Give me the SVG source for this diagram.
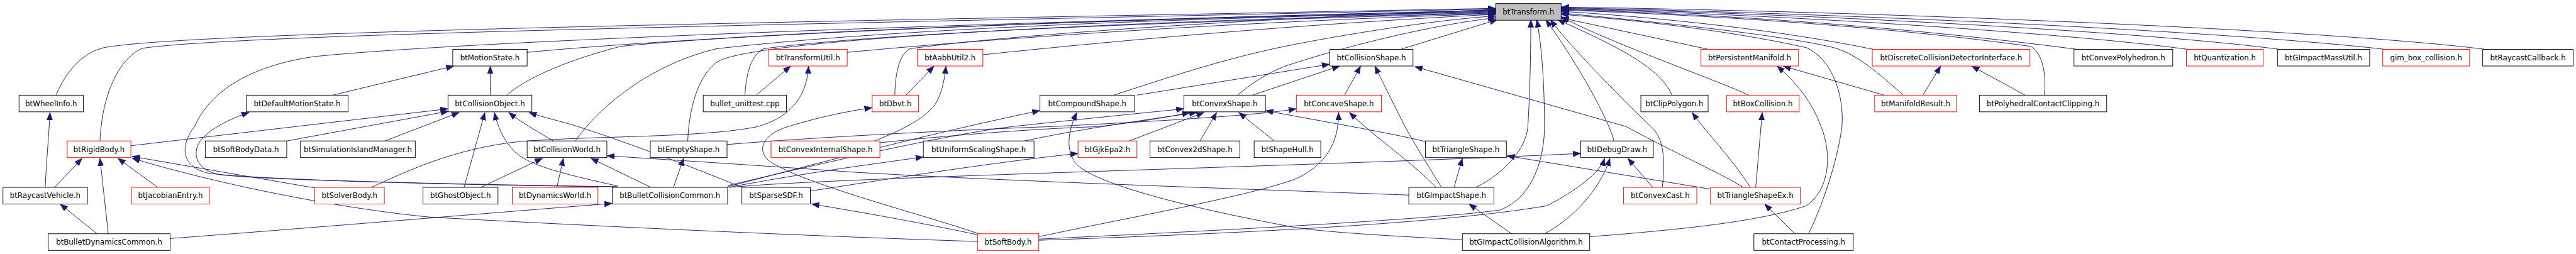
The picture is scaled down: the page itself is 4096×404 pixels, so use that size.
<svg xmlns="http://www.w3.org/2000/svg" width="4096" height="404" viewBox="0 0 4096 404">
<style>
.n rect{fill:#fff;stroke:#000;stroke-width:1}
.n.r rect{stroke:#ff0000}
.n.g rect{fill:#bfbfbf}
.n text{font-family:"DejaVu Sans","Liberation Sans",sans-serif;font-size:12.5px;fill:#000;text-anchor:middle}
.e path{fill:none;stroke:#191970;stroke-width:1;marker-end:url(#a)}
</style>
<defs>
<marker id="a" markerUnits="userSpaceOnUse" markerWidth="14" markerHeight="11" refX="13" refY="5" orient="auto"><path d="M0,0 L13,5 L0,10 Z" fill="#191970" stroke="#191970" stroke-width="0.5"/></marker>
</defs>
<rect x="0" y="0" width="4096" height="404" fill="#fff"/>
<g transform="scale(0.946)">
<g id="edges" class="e">
<path d="M94,160 C112,118 140,88 175,80 C330,52 1400,36 2514,14"/>
<path d="M168,237 C172,150 205,95 240,81 C420,56 1400,40 2514,15"/>
<path d="M1039,314 C800,312 420,302 350,291 C300,280 305,240 327,213 C350,160 410,112 529,95 C800,68 1600,40 2514,17"/>
<path d="M1036,314 C800,310 460,304 372,294 C330,288 322,258 336,238 C350,218 385,200 419,189"/>
<path d="M559,160 L763,111"/>
<path d="M886,88 C1200,58 1900,30 2514,18"/>
<path d="M824,160 L824,111"/>
<path d="M852,160 C880,135 940,105 1043,78 C1300,52 1900,32 2514,19"/>
<path d="M220,245 L753,183"/>
<path d="M482,237 L754,187"/>
<path d="M647,237 L772,189"/>
<path d="M780,315 L815,189"/>
<path d="M1039,313 C960,295 890,280 865,255 C847,237 836,212 831,189"/>
<path d="M930,237 C905,222 875,205 855,189"/>
<path d="M1247,315 C1150,275 1040,235 972,213 C940,203 912,197 889,189"/>
<path d="M967,237 C1000,190 1080,112 1204,82 C1500,48 2000,30 2514,20"/>
<path d="M1156,237 C1158,180 1175,122 1209,102 C1300,60 2000,33 2514,21"/>
<path d="M1252,160 C1255,120 1262,95 1283,82 C1500,52 2100,33 2514,22"/>
<path d="M1271,160 L1329,111"/>
<path d="M624,315 C680,290 760,250 873,238 C1000,228 1180,232 1273,213 C1320,200 1356,170 1359,111"/>
<path d="M1424,88 C1700,62 2100,36 2514,23"/>
<path d="M1504,160 C1505,120 1512,92 1529,82 C1700,58 2100,32 2514,16"/>
<path d="M1523,160 L1570,111"/>
<path d="M1470,237 C1500,225 1560,200 1575,170 C1585,150 1588,130 1590,111"/>
<path d="M1652,92 C1900,66 2200,40 2514,24"/>
<path d="M1872,160 C1950,135 2050,100 2164,77 C2300,50 2450,30 2514,27"/>
<path d="M1911,160 L2235,108"/>
<path d="M2105,160 L2252,111"/>
<path d="M2080,160 C2110,135 2140,118 2164,110 C2300,65 2450,36 2514,30"/>
<path d="M2354,83 L2517,33"/>
<path d="M2260,160 L2287,111"/>
<path d="M2423,315 C2395,270 2370,230 2355,200 C2340,170 2320,130 2311,111"/>
<path d="M2414,315 C2370,270 2310,230 2268,189"/>
<path d="M1746,398 C1900,365 2100,330 2180,300 C2230,275 2250,240 2250,189"/>
<path d="M2930,315 C2900,295 2800,250 2734,213 L2378,112"/>
<path d="M2942,315 C2910,265 2870,225 2844,189"/>
<path d="M2875,318 L2533,262"/>
<path d="M2951,315 L2962,189"/>
<path d="M2939,160 C2900,140 2700,70 2624,28"/>
<path d="M2872,83 L2624,30"/>
<path d="M3149,83 C3000,52 2800,30 2624,19"/>
<path d="M3199,160 C3160,125 3120,90 3082,80 C3000,60 2800,38 2624,22"/>
<path d="M3436,160 C3441,120 3430,86 3413,78 C3200,48 2900,26 2624,17"/>
<path d="M3492,83 C3200,45 2900,24 2624,16"/>
<path d="M3677,83 C3500,58 3000,24 2624,15"/>
<path d="M3832,83 C3600,52 3000,22 2624,14"/>
<path d="M4010,83 C3700,48 3000,20 2624,13"/>
<path d="M4178,83 C3900,48 3100,18 2624,12"/>
<path d="M3040,393 C3070,330 3090,260 3096,213 C3100,160 3080,100 3036,80 C2900,50 2750,34 2624,24"/>
<path d="M3017,393 L2966,343"/>
<path d="M2672,398 C2800,388 2950,375 3036,346 C3075,320 3080,260 3061,213 C3045,170 3020,140 2987,111"/>
<path d="M3167,160 L2997,111"/>
<path d="M3232,160 L3262,111"/>
<path d="M3404,160 L3314,111"/>
<path d="M2794,315 C2800,265 2795,230 2775,213 C2740,180 2640,80 2606,33"/>
<path d="M2778,315 L2736,266"/>
<path d="M2713,237 C2700,190 2640,90 2598,33"/>
<path d="M2810,160 C2790,110 2700,70 2618,33"/>
<path d="M2481,315 C2530,290 2565,250 2568,213 C2572,150 2573,80 2573,33"/>
<path d="M1746,402 C2000,390 2400,370 2522,353 C2580,330 2596,260 2596,213 C2596,130 2590,70 2583,33"/>
<path d="M1746,404 C2000,395 2400,380 2600,346 C2650,320 2690,290 2697,266"/>
<path d="M2596,393 C2640,370 2690,320 2706,266"/>
<path d="M2541,393 L2469,343"/>
<path d="M2458,403 C2300,395 2200,388 2164,380 C1950,340 1820,300 1805,270 C1790,245 1798,215 1810,189"/>
<path d="M2444,315 L2458,266"/>
<path d="M2368,328 C2100,318 1700,305 1443,290 C1300,280 1150,270 1020,262"/>
<path d="M2396,238 C2330,222 2200,200 2127,186"/>
<path d="M1222,243 C1400,228 1700,215 1764,213 C1900,206 2100,196 2179,183"/>
<path d="M1223,312 C1400,270 1600,225 1700,213 C1800,202 1900,192 1990,183"/>
<path d="M1223,314 C1400,268 1560,225 1748,186"/>
<path d="M1225,315 C1330,295 1420,282 1552,264"/>
<path d="M1227,315 C1400,298 2200,280 2657,258"/>
<path d="M1479,240 C1650,222 1780,215 1843,213 C1900,207 1960,198 2000,189"/>
<path d="M1722,237 C1800,220 1900,205 2012,189"/>
<path d="M1898,237 L2024,189"/>
<path d="M2017,237 L2045,189"/>
<path d="M2142,237 L2082,189"/>
<path d="M1363,321 C1450,308 1650,275 1812,258"/>
<path d="M1645,395 C1550,375 1450,357 1364,343"/>
<path d="M1645,393 C1550,360 1350,310 1292,270 C1270,250 1285,225 1324,213 C1380,196 1420,188 1466,181"/>
<path d="M1643,406 C1300,395 900,375 722,365 C550,348 350,305 222,266"/>
<path d="M529,316 L222,263"/>
<path d="M265,315 L198,266"/>
<path d="M92,315 L138,266"/>
<path d="M76,315 C78,270 82,230 84,189"/>
<path d="M163,393 L101,343"/>
<path d="M182,393 L168,266"/>
<path d="M286,401 C500,385 800,360 1029,342"/>
<path d="M808,315 L912,266"/>
<path d="M936,315 L947,266"/>
<path d="M1094,315 L993,266"/>
<path d="M1132,315 L1149,266"/>
</g>
<g id="n_T" class="n g"><rect x="2514" y="6" width="110" height="28"/><text x="2569" y="24.5">btTransform.h</text></g>
<g id="n_motion" class="n"><rect x="761" y="83" width="125" height="28"/><text x="823.5" y="101.5">btMotionState.h</text></g>
<g id="n_tutil" class="n r"><rect x="1292" y="83" width="132" height="28"/><text x="1358" y="101.5">btTransformUtil.h</text></g>
<g id="n_aabb" class="n r"><rect x="1542" y="83" width="110" height="28"/><text x="1597" y="101.5">btAabbUtil2.h</text></g>
<g id="n_cshape" class="n"><rect x="2235" y="83" width="140" height="28"/><text x="2305" y="101.5">btCollisionShape.h</text></g>
<g id="n_pm" class="n r"><rect x="2859" y="83" width="164" height="28"/><text x="2941" y="101.5">btPersistentManifold.h</text></g>
<g id="n_dcdi" class="n r"><rect x="3147" y="83" width="265" height="28"/><text x="3279.5" y="101.5">btDiscreteCollisionDetectorInterface.h</text></g>
<g id="n_cpoly" class="n"><rect x="3486" y="83" width="166" height="28"/><text x="3569" y="101.5">btConvexPolyhedron.h</text></g>
<g id="n_quant" class="n r"><rect x="3675" y="83" width="129" height="28"/><text x="3739.5" y="101.5">btQuantization.h</text></g>
<g id="n_gmass" class="n"><rect x="3828" y="83" width="155" height="28"/><text x="3905.5" y="101.5">btGImpactMassUtil.h</text></g>
<g id="n_gimbox" class="n r"><rect x="4005" y="83" width="146" height="28"/><text x="4078" y="101.5">gim_box_collision.h</text></g>
<g id="n_rcb" class="n"><rect x="4173" y="83" width="152" height="28"/><text x="4249" y="101.5">btRaycastCallback.h</text></g>
<g id="n_wheel" class="n"><rect x="32" y="160" width="108" height="28"/><text x="86" y="178.5">btWheelInfo.h</text></g>
<g id="n_dms" class="n"><rect x="414" y="160" width="171" height="28"/><text x="499.5" y="178.5">btDefaultMotionState.h</text></g>
<g id="n_cobj" class="n"><rect x="753" y="160" width="141" height="28"/><text x="823.5" y="178.5">btCollisionObject.h</text></g>
<g id="n_unit" class="n"><rect x="1182" y="160" width="140" height="28"/><text x="1252" y="178.5">bullet_unittest.cpp</text></g>
<g id="n_dbvt" class="n r"><rect x="1466" y="160" width="78" height="28"/><text x="1505" y="178.5">btDbvt.h</text></g>
<g id="n_compound" class="n"><rect x="1748" y="160" width="159" height="28"/><text x="1827.5" y="178.5">btCompoundShape.h</text></g>
<g id="n_convex" class="n"><rect x="1990" y="160" width="137" height="28"/><text x="2058.5" y="178.5">btConvexShape.h</text></g>
<g id="n_concave" class="n r"><rect x="2179" y="160" width="143" height="28"/><text x="2250.5" y="178.5">btConcaveShape.h</text></g>
<g id="n_clip" class="n"><rect x="2758" y="160" width="113" height="28"/><text x="2814.5" y="178.5">btClipPolygon.h</text></g>
<g id="n_boxcol" class="n r"><rect x="2902" y="160" width="122" height="28"/><text x="2963" y="178.5">btBoxCollision.h</text></g>
<g id="n_mres" class="n r"><rect x="3151" y="160" width="138" height="28"/><text x="3220" y="178.5">btManifoldResult.h</text></g>
<g id="n_pcc" class="n"><rect x="3327" y="160" width="214" height="28"/><text x="3434" y="178.5">btPolyhedralContactClipping.h</text></g>
<g id="n_rigid" class="n r"><rect x="113" y="237" width="107" height="28"/><text x="166.5" y="255.5">btRigidBody.h</text></g>
<g id="n_sbdata" class="n"><rect x="345" y="237" width="137" height="28"/><text x="413.5" y="255.5">btSoftBodyData.h</text></g>
<g id="n_sim" class="n"><rect x="505" y="237" width="193" height="28"/><text x="601.5" y="255.5">btSimulationIslandManager.h</text></g>
<g id="n_cworld" class="n"><rect x="886" y="237" width="134" height="28"/><text x="953" y="255.5">btCollisionWorld.h</text></g>
<g id="n_empty" class="n"><rect x="1093" y="237" width="129" height="28"/><text x="1157.5" y="255.5">btEmptyShape.h</text></g>
<g id="n_cis" class="n r"><rect x="1296" y="237" width="183" height="28"/><text x="1387.5" y="255.5">btConvexInternalShape.h</text></g>
<g id="n_uss" class="n"><rect x="1552" y="237" width="186" height="28"/><text x="1645" y="255.5">btUniformScalingShape.h</text></g>
<g id="n_gjk" class="n r"><rect x="1812" y="237" width="99" height="28"/><text x="1861.5" y="255.5">btGjkEpa2.h</text></g>
<g id="n_c2d" class="n"><rect x="1933" y="237" width="151" height="28"/><text x="2008.5" y="255.5">btConvex2dShape.h</text></g>
<g id="n_hull" class="n"><rect x="2108" y="237" width="112" height="28"/><text x="2164" y="255.5">btShapeHull.h</text></g>
<g id="n_tri" class="n"><rect x="2396" y="237" width="136" height="28"/><text x="2464" y="255.5">btTriangleShape.h</text></g>
<g id="n_idd" class="n"><rect x="2657" y="237" width="122" height="28"/><text x="2718" y="255.5">btIDebugDraw.h</text></g>
<g id="n_rv" class="n"><rect x="5" y="315" width="142" height="28"/><text x="76" y="333.5">btRaycastVehicle.h</text></g>
<g id="n_jac" class="n r"><rect x="221" y="315" width="131" height="28"/><text x="286.5" y="333.5">btJacobianEntry.h</text></g>
<g id="n_solver" class="n r"><rect x="529" y="315" width="117" height="28"/><text x="587.5" y="333.5">btSolverBody.h</text></g>
<g id="n_ghost" class="n"><rect x="711" y="315" width="126" height="28"/><text x="774" y="333.5">btGhostObject.h</text></g>
<g id="n_dworld" class="n r"><rect x="861" y="315" width="144" height="28"/><text x="933" y="333.5">btDynamicsWorld.h</text></g>
<g id="n_bcc" class="n"><rect x="1029" y="315" width="194" height="28"/><text x="1126" y="333.5">btBulletCollisionCommon.h</text></g>
<g id="n_sdf" class="n"><rect x="1247" y="315" width="115" height="28"/><text x="1304.5" y="333.5">btSparseSDF.h</text></g>
<g id="n_gshape" class="n"><rect x="2368" y="315" width="143" height="28"/><text x="2439.5" y="333.5">btGImpactShape.h</text></g>
<g id="n_ccast" class="n r"><rect x="2729" y="315" width="123" height="28"/><text x="2790.5" y="333.5">btConvexCast.h</text></g>
<g id="n_triex" class="n r"><rect x="2875" y="315" width="151" height="28"/><text x="2950.5" y="333.5">btTriangleShapeEx.h</text></g>
<g id="n_bdc" class="n"><rect x="81" y="393" width="205" height="28"/><text x="183.5" y="411.5">btBulletDynamicsCommon.h</text></g>
<g id="n_sb" class="n r"><rect x="1643" y="393" width="103" height="28"/><text x="1694.5" y="411.5">btSoftBody.h</text></g>
<g id="n_gca" class="n"><rect x="2458" y="393" width="214" height="28"/><text x="2565" y="411.5">btGImpactCollisionAlgorithm.h</text></g>
<g id="n_cp" class="n"><rect x="2948" y="393" width="167" height="28"/><text x="3031.5" y="411.5">btContactProcessing.h</text></g>
</g>
</svg>
